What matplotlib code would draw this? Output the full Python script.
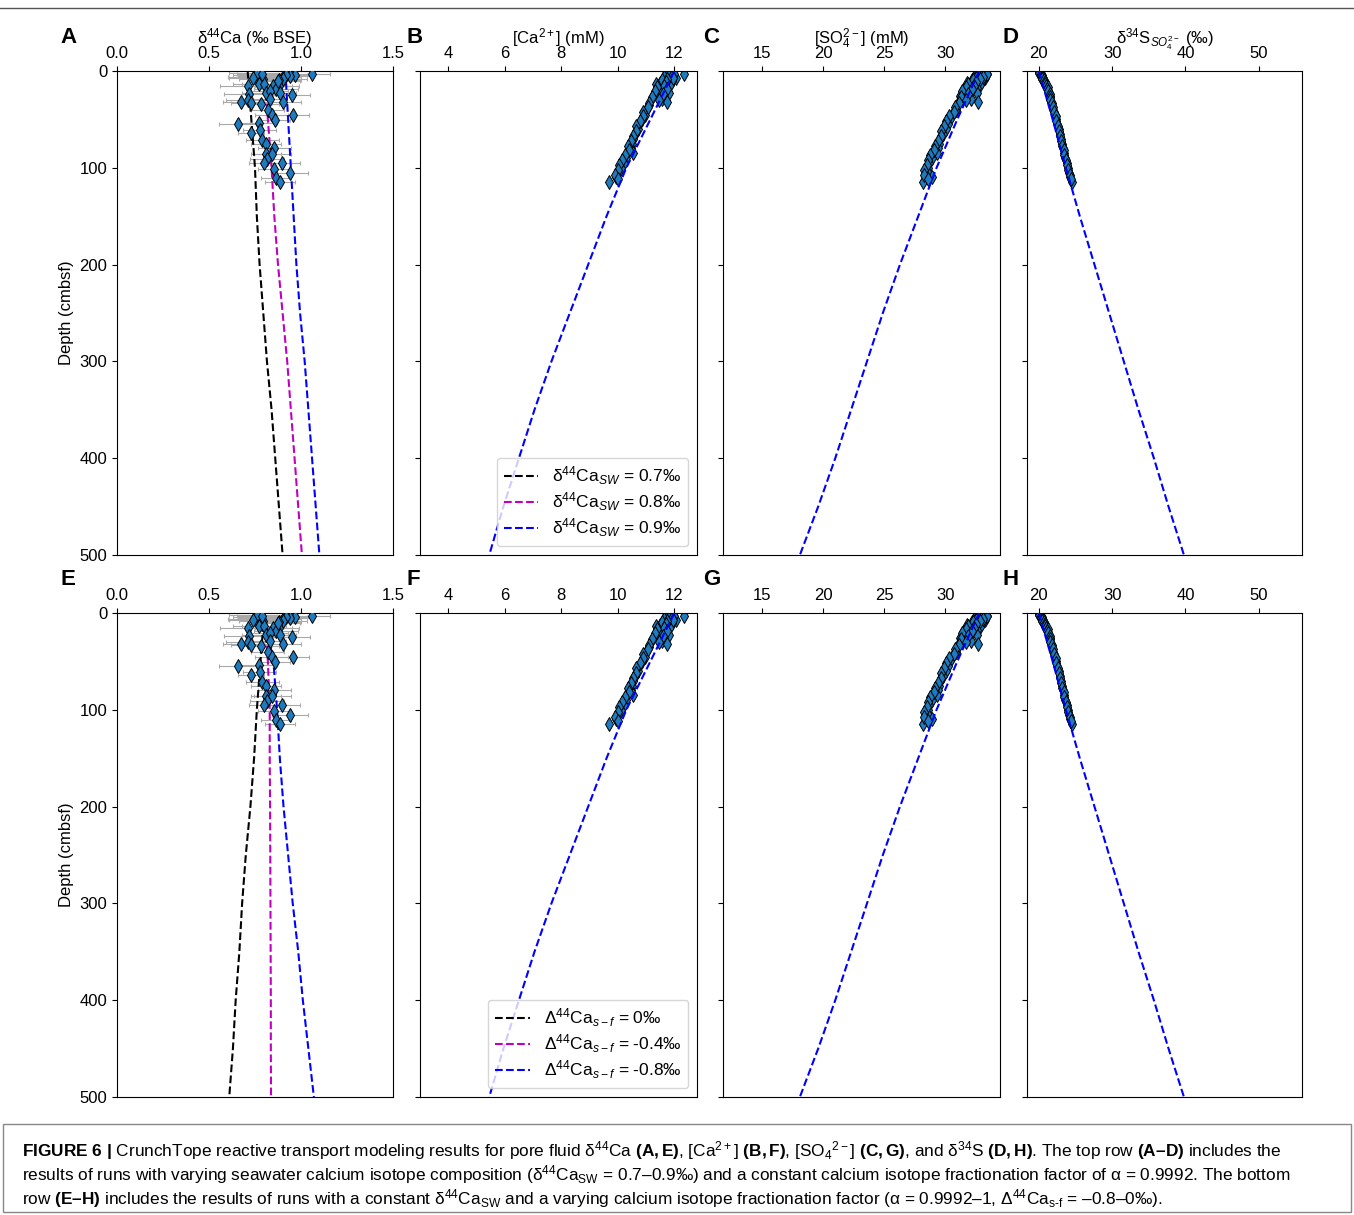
import matplotlib
matplotlib.use('Agg')
from matplotlib import pyplot as plt
from matplotlib.patches import Rectangle
from matplotlib.lines import Line2D

plt.rcParams['font.family'] = ['Liberation Sans', 'DejaVu Sans']
plt.rcParams['mathtext.fontset'] = 'custom'
plt.rcParams['mathtext.rm'] = 'Liberation Sans'
plt.rcParams['mathtext.it'] = 'Liberation Sans:italic'
plt.rcParams['mathtext.bf'] = 'Liberation Sans:bold'

# measured d44Ca (panel A / E)
ca44_depth = [3, 4, 5, 6, 4, 8, 9, 4, 5, 6, 8, 13, 13, 16, 15, 15, 19, 23, 21, 24,
              23, 25, 32, 30, 33, 34, 29, 32, 40, 45, 51, 45, 55, 54, 61, 64, 71, 75, 80, 86,
              86, 91, 95, 95, 105, 101, 111, 115, 2, 3, 7, 10]
ca44 = [1.06, 0.97, 0.94, 0.90, 0.92, 0.90, 0.88, 0.77, 0.78, 0.755, 0.795, 0.77, 0.80, 0.71, 0.85, 0.88, 0.865, 0.81, 0.83, 0.72,
        0.885, 0.95, 0.675, 0.71, 0.73, 0.78, 0.83, 0.90, 0.82, 0.84, 0.86, 0.955, 0.655, 0.77, 0.775, 0.73, 0.79, 0.81, 0.855, 0.81,
        0.845, 0.815, 0.895, 0.80, 0.94, 0.855, 0.865, 0.885, 0.76, 0.79, 0.74, 0.875]
ca44_err = [0.10, 0.09, 0.12, 0.10, 0.11, 0.13, 0.12, 0.14, 0.12, 0.15, 0.13, 0.14, 0.12, 0.15, 0.10, 0.11, 0.12, 0.13, 0.10, 0.14,
            0.09, 0.10, 0.10, 0.12, 0.11, 0.10, 0.09, 0.10, 0.09, 0.09, 0.08, 0.09, 0.10, 0.10, 0.09, 0.07, 0.09, 0.08, 0.09, 0.08,
            0.10, 0.09, 0.10, 0.08, 0.10, 0.09, 0.08, 0.08, 0.15, 0.14, 0.13, 0.12]

# pore water concentrations (panels B-D / F-H)
pw_depth = [1, 2, 3, 4, 5, 6, 7, 8, 9, 10, 12, 14, 16, 18, 20, 23, 26, 29, 32, 35,
            40, 45, 50, 55, 60, 65, 70, 75, 80, 85, 90, 95, 100, 105, 110, 115,
            0.5, 1.5, 2.5, 3.5, 4.5, 5.5, 6.5, 7.5, 8.5, 9.5, 11, 13, 15, 17, 19, 21, 24, 27,
            30, 33, 37, 42, 47, 52, 57, 62, 67, 72, 77, 82, 87, 92, 97, 102, 107, 112]
ca_conc = [11.9, 11.8, 12.35, 11.75, 11.95, 11.7, 12.05, 11.85, 11.6, 11.9, 11.5, 11.85, 11.55, 11.7, 11.45, 11.8, 11.25, 11.55, 11.75, 11.1,
           11.0, 10.95, 10.85, 10.75, 10.7, 10.6, 10.55, 10.5, 10.45, 10.55, 10.3, 10.2, 10.1, 10.0, 9.95, 9.7,
           11.95, 11.85, 11.7, 12.0, 11.8, 11.9, 11.65, 11.95, 11.75, 11.55, 11.7, 11.35, 11.65, 11.4, 11.75, 11.3, 11.6, 11.2,
           11.45, 11.1, 11.05, 10.9, 10.9, 10.8, 10.65, 10.65, 10.55, 10.45, 10.35, 10.4, 10.25, 10.15, 10.05, 10.0, 9.9, 10.0]
so4_conc = [33.2, 32.9, 33.4, 32.6, 33.0, 32.4, 33.3, 32.8, 32.2, 33.0, 31.8, 32.9, 31.9, 32.6, 31.5, 32.6, 31.2, 32.1, 32.7, 31.0,
            30.9, 30.6, 30.4, 30.2, 30.1, 29.8, 29.6, 29.5, 29.4, 29.3, 28.9, 28.7, 28.6, 28.6, 28.9, 28.2,
            33.3, 33.1, 32.7, 33.4, 32.9, 32.7, 33.1, 32.5, 32.9, 32.3, 32.5, 31.9, 32.4, 31.7, 32.2, 31.4, 31.9, 31.3,
            31.7, 31.1, 30.8, 30.7, 30.3, 30.1, 29.9, 29.7, 29.7, 29.4, 29.2, 29.1, 28.8, 28.6, 28.5, 28.3, 28.3, 28.6]
d34s = [20.0, 20.1, 20.2, 20.3, 20.3, 20.4, 20.5, 20.5, 20.6, 20.7, 20.8, 20.9, 21.0, 21.1, 21.2, 21.4, 21.5, 21.6, 21.7, 21.8,
        22.0, 22.2, 22.3, 22.5, 22.7, 22.9, 23.0, 23.2, 23.3, 23.5, 23.6, 23.8, 24.0, 24.1, 24.3, 24.5,
        20.0, 20.2, 20.1, 20.3, 20.4, 20.3, 20.5, 20.6, 20.5, 20.7, 20.9, 20.8, 21.0, 21.2, 21.1, 21.3, 21.5, 21.6,
        21.6, 21.8, 21.9, 22.1, 22.3, 22.4, 22.6, 22.7, 22.9, 23.1, 23.2, 23.4, 23.5, 23.7, 23.9, 24.0, 24.2, 24.4]

# model output
mod_depth = [0, 50, 100, 150, 200, 250, 300, 350, 400, 450, 500]
sw_07 = [0.71, 0.73, 0.75, 0.76, 0.775, 0.795, 0.815, 0.84, 0.86, 0.88, 0.90]
sw_08 = [0.80, 0.82, 0.84, 0.855, 0.875, 0.90, 0.925, 0.945, 0.965, 0.985, 1.005]
sw_09 = [0.915, 0.93, 0.945, 0.96, 0.975, 0.995, 1.02, 1.04, 1.06, 1.08, 1.10]
fr_0 = [0.80, 0.78, 0.76, 0.745, 0.725, 0.70, 0.68, 0.665, 0.645, 0.63, 0.61]
fr_04 = [0.80, 0.82, 0.83, 0.83, 0.832, 0.833, 0.834, 0.835, 0.836, 0.836, 0.837]
fr_08 = [0.80, 0.85, 0.87, 0.885, 0.905, 0.93, 0.955, 0.985, 1.01, 1.04, 1.07]
mod_ca = [12.0, 11.15, 10.3, 9.6, 8.95, 8.3, 7.65, 7.05, 6.5, 5.95, 5.45]
mod_so4 = [32.8, 31.0, 29.3, 27.8, 26.3, 24.9, 23.6, 22.3, 21.0, 19.6, 18.1]
mod_d34s = [20.0, 21.9, 23.7, 25.6, 27.6, 29.6, 31.6, 33.6, 35.7, 37.7, 39.8]

sw_labels = [r'δ$^{44}$Ca$_{SW}$ = 0.7‰', r'δ$^{44}$Ca$_{SW}$ = 0.8‰', r'δ$^{44}$Ca$_{SW}$ = 0.9‰']
fr_labels = [r'Δ$^{44}$Ca$_{s-f}$ = 0‰', r'Δ$^{44}$Ca$_{s-f}$ = -0.4‰', r'Δ$^{44}$Ca$_{s-f}$ = -0.8‰']
xlabels = ['δ$^{44}$Ca (‰ BSE)', '[Ca$^{2+}$] (mM)', '[SO$_4^{2-}$] (mM)', 'δ$^{34}$S$_{SO_4^{2-}}$ (‰)']
xlims = [(0, 1.5), (3.0, 12.8), (11.8, 34.5), (18.4, 55.9)]
xticks = [[0.0, 0.5, 1.0, 1.5], [4, 6, 8, 10, 12], [15, 20, 25, 30], [20, 30, 40, 50]]
letters = ['ABCD', 'EFGH']

W, H = 1354, 1215
fig = plt.figure(figsize=(W / 100, H / 100), dpi=100)

lefts = [117, 420, 723, 1027]
widths = [276, 277, 277, 275]
letter_x = [60, 406, 703, 1003]
tops = [71, 613]
ph = 484
mcol = '#1f7bbf'

for r in range(2):
    for c in range(4):
        ax = fig.add_axes([lefts[c] / W, 1 - (tops[r] + ph) / H, widths[c] / W, ph / H])
        if c == 0:
            ax.errorbar(ca44, ca44_depth, xerr=ca44_err, fmt='none', ecolor='darkgrey',
                        elinewidth=0.8, capsize=1.5, capthick=0.8, zorder=1)
            lines = [sw_07, sw_08, sw_09] if r == 0 else [fr_0, fr_04, fr_08]
            for vals, col in zip(lines, ['k', 'm', 'b']):
                ax.plot(vals, mod_depth, '--', color=col, lw=1.5, zorder=2)
            ax.plot(ca44, ca44_depth, 'd', mfc=mcol, mec='k', mew=0.7, ms=7, zorder=3)
            ax.set_ylabel('Depth (cmbsf)', fontsize=12)
        else:
            data = [ca_conc, so4_conc, d34s][c - 1]
            mod = [mod_ca, mod_so4, mod_d34s][c - 1]
            ax.plot(data, pw_depth, 'd', mfc=mcol, mec='k', mew=0.7, ms=7, zorder=2)
            ax.plot(mod, mod_depth, '--', color='b', lw=1.5, zorder=3)
            ax.tick_params(labelleft=False)
        if c == 1:
            labs = sw_labels if r == 0 else fr_labels
            hs = [Line2D([], [], ls='--', color=col, lw=1.5) for col in ['k', 'm', 'b']]
            ax.legend(hs, labs, loc='lower right', fontsize=12.5, labelspacing=0.2,
                      borderaxespad=0.5)
        ax.set_ylim(500, 0)
        ax.set_yticks([0, 100, 200, 300, 400, 500])
        ax.set_xlim(*xlims[c])
        ax.set_xticks(xticks[c])
        ax.xaxis.tick_top()
        ax.tick_params(labelsize=12)
        if r == 0:
            ax.xaxis.set_label_position('top')
            ax.set_xlabel(xlabels[c], fontsize=12, labelpad=2)
        fig.text(letter_x[c] / W, 1 - (tops[r] - 28) / H, letters[r][c],
                 fontsize=16, fontweight='bold', va='baseline')

# frame lines of the figure page
fig.add_artist(Line2D([0, 1], [1 - 8 / H, 1 - 8 / H], color='#555555', lw=1))
fig.add_artist(Rectangle((3 / W, 3 / H), 1 - 6 / W, (1212 - 1124) / H, fill=False,
                         edgecolor='#888888', lw=1))

cap = [r'$\mathbf{FIGURE\ 6\ |}$ CrunchTope reactive transport modeling results for pore fluid δ$^{44}$Ca $\mathbf{(A,E)}$, [Ca$^{2+}$] $\mathbf{(B,F)}$, [SO$_4$$^{2-}$] $\mathbf{(C,G)}$, and δ$^{34}$S $\mathbf{(D,H)}$. The top row $\mathbf{(A–D)}$ includes the',
       r'results of runs with varying seawater calcium isotope composition (δ$^{44}$Ca$_{\rm SW}$ = 0.7–0.9‰) and a constant calcium isotope fractionation factor of α = 0.9992. The bottom',
       r'row $\mathbf{(E–H)}$ includes the results of runs with a constant δ$^{44}$Ca$_{\rm SW}$ and a varying calcium isotope fractionation factor (α = 0.9992–1, Δ$^{44}$Ca$_{\rm s\text{-}f}$ = –0.8–0‰).']
for i, line in enumerate(cap):
    fig.text(22 / W, 1 - (1156 + i * 24) / H, line, fontsize=12.4, va='baseline')

fig.savefig('out.png', dpi=100)
